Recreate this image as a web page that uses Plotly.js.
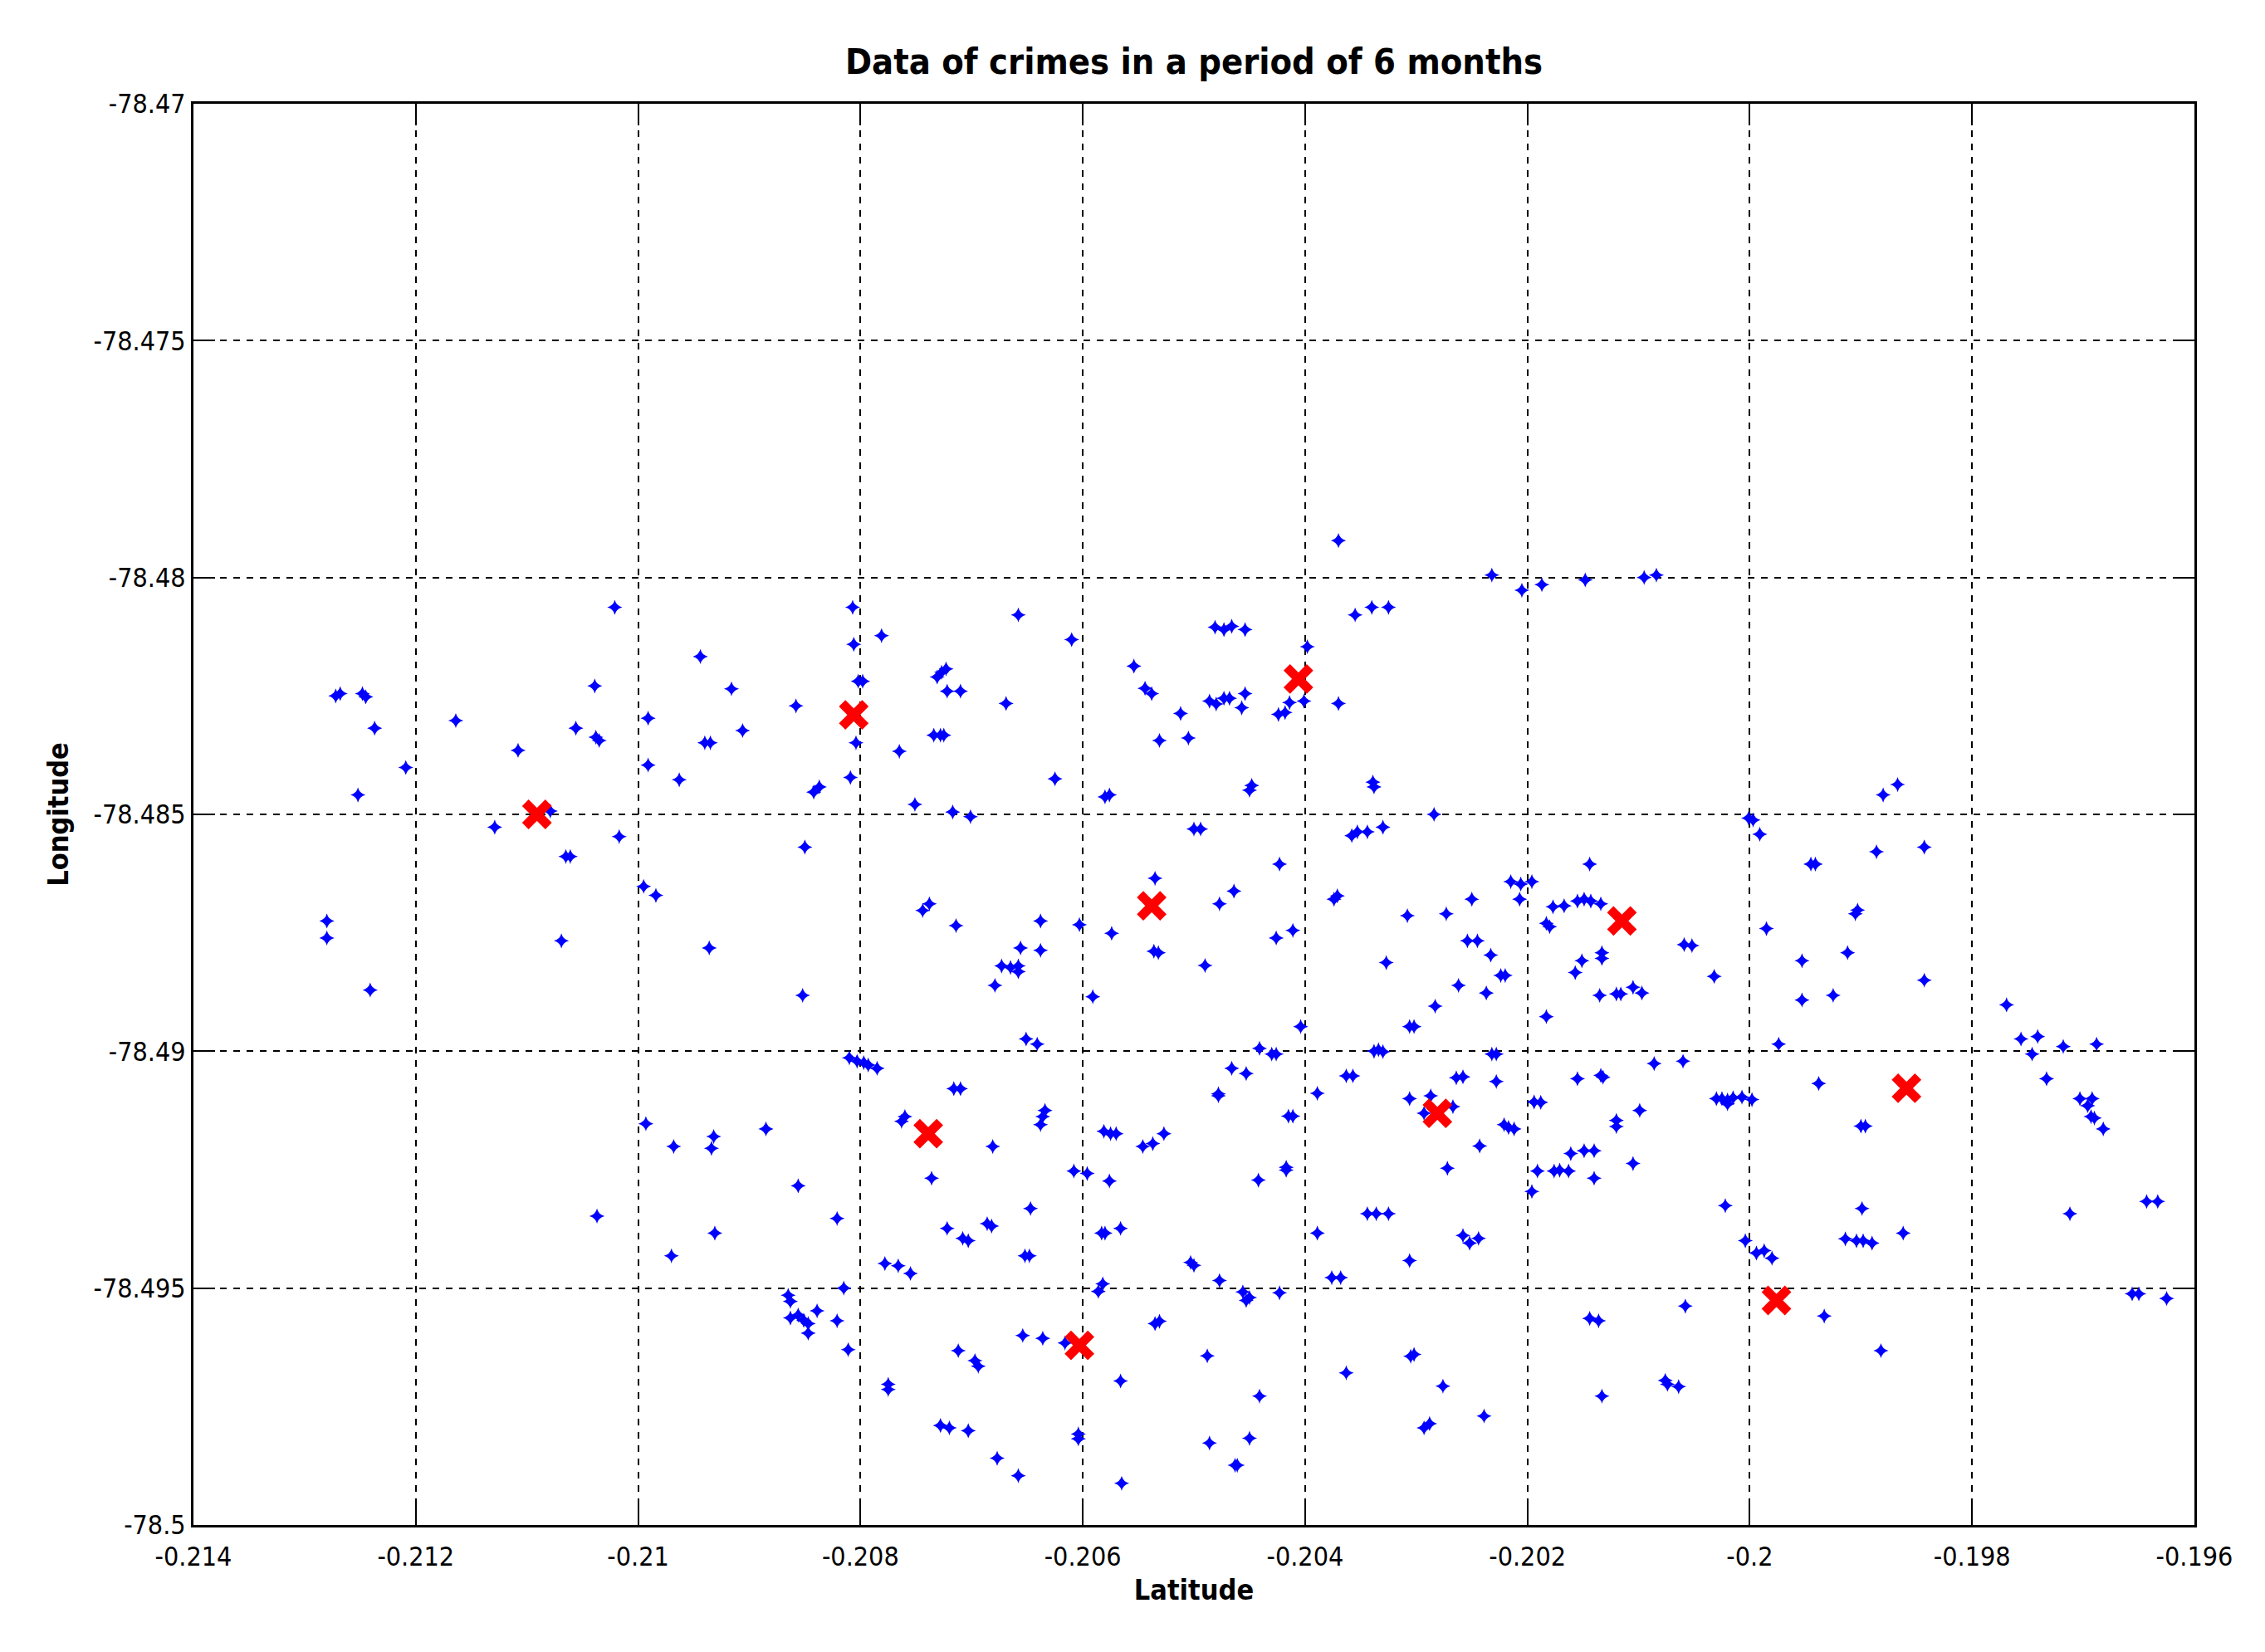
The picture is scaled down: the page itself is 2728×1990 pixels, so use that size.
<!DOCTYPE html>
<html>
<head>
<meta charset="utf-8">
<script src="https://cdn.plot.ly/plotly-3.0.1.min.js"></script>
<style>html,body{margin:0;padding:0;background:#fff;}#chart{width:2728px;height:1990px;}</style>
</head>
<body>
<div id="chart"></div>
<script>
// Crime locations (x = "Latitude" axis, y = "Longitude" axis)
const crimeLat = [
-0.21021,-0.21272,-0.21268,-0.21248,-0.21245,-0.21237,-0.21209,-0.21252,-0.21164,-0.21108,
-0.21039,-0.21056,-0.21038,-0.21035,-0.20991,-0.20991,-0.20963,-0.21079,-0.21129,-0.21017,
-0.21065,-0.21061,-0.20995,-0.20984,-0.21280,-0.21280,-0.21069,-0.21241,
-0.20807,-0.20658,-0.20781,-0.20806,-0.20944,-0.20731,-0.20727,-0.20723,-0.20802,-0.20798,
-0.20722,-0.20710,-0.20669,-0.20916,-0.20858,-0.20906,-0.20940,-0.20935,-0.20804,-0.20765,
-0.20734,-0.20728,-0.20725,-0.20842,-0.20837,-0.20809,-0.20751,-0.20717,-0.20701,-0.20850,
-0.20744,-0.20738,-0.20714,-0.20656,-0.20673,-0.20665,-0.20658,-0.20658,-0.20679,-0.20936,
-0.20852,
-0.20370,-0.20355,-0.20340,-0.20325,-0.20481,-0.20473,-0.20466,-0.20454,-0.20610,-0.20398,
-0.20554,-0.20544,-0.20538,-0.20486,-0.20480,-0.20473,-0.20468,-0.20454,-0.20457,-0.20414,
-0.20401,-0.20424,-0.20418,-0.20370,-0.20512,-0.20531,-0.20505,-0.20625,-0.20580,-0.20576,
-0.20448,-0.20450,-0.20339,-0.20338,-0.20500,-0.20494,-0.20358,-0.20353,-0.20344,-0.20330,
-0.20423,-0.20535,-0.20464,-0.20477,-0.20371,-0.20374,-0.20308,-0.20638,-0.20638,-0.20603,
-0.20574,-0.20536,-0.20532,-0.20490,-0.20426,-0.20411,-0.20327,-0.20591,
-0.20232,-0.20205,-0.20187,-0.20148,-0.20095,-0.20084,-0.20284,-0.20001,-0.19997,-0.19991,
-0.20144,-0.20215,-0.20206,-0.20196,-0.20207,-0.20250,-0.20273,-0.20177,-0.20167,-0.20155,
-0.20149,-0.20143,-0.20134,-0.20183,-0.20180,-0.20254,-0.20245,-0.20233,-0.20059,-0.20052,
-0.19985,-0.20151,-0.20133,-0.20133,-0.20157,-0.20224,-0.20220,-0.20032,-0.20262,-0.20237,
-0.20135,-0.20120,-0.20116,-0.20105,-0.20097,-0.20283,
-0.19880,-0.19867,-0.19945,-0.19941,-0.19886,-0.19843,-0.19905,-0.19903,-0.19953,-0.19912,
-0.19843,-0.19953,-0.19925,-0.19769,
-0.20993,-0.20968,-0.21037,-0.20970,
-0.20651,-0.20641,-0.20810,-0.20803,-0.20797,-0.20793,-0.20785,-0.20716,-0.20710,-0.20763,
-0.20760,-0.20681,-0.20634,-0.20636,-0.20638,-0.20932,-0.20934,-0.20885,-0.20856,-0.20821,
-0.20736,-0.20647,-0.20722,-0.20708,-0.20703,-0.20686,-0.20682,-0.20652,-0.20648,-0.20931,
-0.20778,-0.20766,-0.20755,-0.20815,-0.20865,-0.20863,-0.20863,-0.20856,-0.20851,-0.20847,
-0.20847,-0.20839,-0.20821,-0.20811,-0.20654,-0.20636,-0.20712,-0.20697,-0.20694,-0.20775,
-0.20775,-0.20728,-0.20720,-0.20703,-0.20677,-0.20658,
-0.20404,-0.20306,-0.20302,-0.20441,-0.20430,-0.20426,-0.20338,-0.20334,-0.20330,-0.20466,
-0.20453,-0.20478,-0.20478,-0.20389,-0.20363,-0.20357,-0.20306,-0.20415,-0.20411,-0.20581,
-0.20575,-0.20570,-0.20546,-0.20537,-0.20527,-0.20608,-0.20596,-0.20576,-0.20442,-0.20417,
-0.20417,-0.20344,-0.20336,-0.20325,-0.20583,-0.20580,-0.20566,-0.20389,-0.20503,-0.20500,
-0.20477,-0.20306,-0.20376,-0.20368,-0.20582,-0.20586,-0.20456,-0.20453,-0.20450,-0.20423,
-0.20535,-0.20531,-0.20616,-0.20488,-0.20363,-0.20305,-0.20302,-0.20566,-0.20441,-0.20604,
-0.20604,-0.20486,-0.20450,-0.20463,-0.20461,-0.20565,
-0.20183,-0.19974,-0.20232,-0.20228,-0.20086,-0.20060,-0.20264,-0.20258,-0.20228,-0.20155,
-0.20134,-0.20132,-0.20287,-0.20293,-0.20267,-0.20221,-0.20217,-0.20212,-0.20194,-0.20188,
-0.20030,-0.20025,-0.20020,-0.20015,-0.20007,-0.20020,-0.19998,-0.20120,-0.20120,-0.20099,
-0.20243,-0.20272,-0.20161,-0.20149,-0.20140,-0.20191,-0.20176,-0.20171,-0.20163,-0.20140,
-0.20105,-0.20196,-0.20022,-0.20258,-0.20252,-0.20244,-0.20004,-0.19994,-0.19987,-0.19980,
-0.20058,-0.20144,-0.20136,-0.20276,-0.20293,-0.20288,-0.20239,-0.20133,-0.20076,-0.20074,
-0.20064,
-0.19756,-0.19741,-0.19746,-0.19718,-0.19688,-0.19733,-0.19703,-0.19692,-0.19696,-0.19693,
-0.19690,-0.19682,-0.19938,-0.19900,-0.19896,-0.19899,-0.19914,-0.19904,-0.19898,-0.19890,
-0.19862,-0.19712,-0.19643,-0.19633,-0.19656,-0.19650,-0.19625,-0.19933,-0.19882
];
const crimeLon = [
-78.48063,-78.48250,-78.48245,-78.48245,-78.48252,-78.48318,-78.48401,-78.48459,-78.48302,-78.48365,
-78.48229,-78.48318,-78.48337,-78.48344,-78.48297,-78.48396,-78.48427,-78.48493,-78.48527,-78.48547,
-78.48589,-78.48589,-78.48652,-78.48671,-78.48725,-78.48761,-78.48767,-78.48871,
-78.48063,-78.48079,-78.48123,-78.48141,-78.48167,-78.48210,-78.48200,-78.48193,-78.48219,-78.48219,
-78.48240,-78.48240,-78.48266,-78.48235,-78.48271,-78.48323,-78.48349,-78.48349,-78.48349,-78.48367,
-78.48333,-78.48333,-78.48333,-78.48453,-78.48442,-78.48422,-78.48479,-78.48495,-78.48505,-78.48569,
-78.48703,-78.48689,-78.48735,-78.48782,-78.48820,-78.48823,-78.48820,-78.48832,-78.48861,-78.48782,
-78.48882,
-78.47922,-78.48079,-78.48063,-78.48063,-78.48105,-78.48110,-78.48103,-78.48110,-78.48131,-78.48146,
-78.48187,-78.48234,-78.48245,-78.48261,-78.48267,-78.48255,-78.48255,-78.48245,-78.48275,-78.48264,
-78.48261,-78.48289,-78.48285,-78.48266,-78.48287,-78.48344,-78.48339,-78.48425,-78.48463,-78.48459,
-78.48439,-78.48449,-78.48432,-78.48442,-78.48531,-78.48531,-78.48545,-78.48537,-78.48537,-78.48527,
-78.48605,-78.48635,-78.48662,-78.48689,-78.48672,-78.48679,-78.48714,-78.48725,-78.48787,-78.48733,
-78.48751,-78.48789,-78.48792,-78.48819,-78.48761,-78.48745,-78.48813,-78.48885,
-78.47995,-78.48027,-78.48015,-78.48005,-78.48000,-78.47995,-78.48500,-78.48508,-78.48512,-78.48542,
-78.48605,-78.48642,-78.48647,-78.48642,-78.48679,-78.48679,-78.48710,-78.48695,-78.48693,-78.48683,
-78.48679,-78.48683,-78.48689,-78.48730,-78.48737,-78.48767,-78.48767,-78.48797,-78.48775,-78.48777,
-78.48741,-78.48809,-78.48792,-78.48804,-78.48834,-78.48840,-78.48840,-78.48842,-78.48861,-78.48877,
-78.48882,-78.48879,-78.48879,-78.48865,-78.48877,-78.48905,
-78.48459,-78.48437,-78.48605,-78.48605,-78.48579,-78.48569,-78.48710,-78.48702,-78.48809,-78.48792,
-78.48850,-78.48892,-78.48882,-78.48902,
-78.49153,-78.49201,-78.49348,-78.49432,
-78.48974,-78.48985,-78.49014,-78.49021,-78.49024,-78.49029,-78.49036,-78.49079,-78.49079,-78.49148,
-78.49138,-78.49201,-78.49125,-78.49138,-78.49155,-78.49180,-78.49205,-78.49164,-78.49284,-78.49353,
-78.49268,-78.49332,-78.49374,-78.49395,-78.49400,-78.49364,-78.49369,-78.49432,-78.49432,-78.49384,
-78.49448,-78.49453,-78.49469,-78.49500,-78.49515,-78.49528,-78.49563,-78.49557,-78.49568,-78.49575,
-78.49595,-78.49548,-78.49569,-78.49630,-78.49600,-78.49606,-78.49632,-78.49653,-78.49665,-78.49703,
-78.49714,-78.49790,-78.49795,-78.49801,-78.49859,-78.49896,
-78.48948,-78.48948,-78.48948,-78.48994,-78.49006,-78.49006,-78.49000,-78.48997,-78.49001,-78.49036,
-78.49047,-78.49094,-78.49090,-78.49089,-78.49052,-78.49052,-78.49100,-78.49137,-78.49137,-78.49169,
-78.49174,-78.49174,-78.49201,-78.49195,-78.49174,-78.49253,-78.49258,-78.49274,-78.49272,-78.49251,
-78.49245,-78.49343,-78.49343,-78.49343,-78.49384,-78.49384,-78.49374,-78.49384,-78.49446,-78.49452,
-78.49484,-78.49442,-78.49478,-78.49478,-78.49491,-78.49507,-78.49508,-78.49526,-78.49520,-78.49510,
-78.49575,-78.49570,-78.49616,-78.49643,-78.49679,-78.49644,-78.49640,-78.49696,-78.49728,-78.49808,
-78.49818,-78.49827,-78.49817,-78.49874,-78.49874,-78.49912,
-78.48927,-78.48985,-78.49006,-78.49006,-78.49026,-78.49021,-78.49056,-78.49054,-78.49064,-78.49058,
-78.49051,-78.49055,-78.49094,-78.49131,-78.49117,-78.49155,-78.49161,-78.49164,-78.49107,-78.49108,
-78.49100,-78.49100,-78.49103,-78.49098,-78.49097,-78.49111,-78.49102,-78.49146,-78.49159,-78.49125,
-78.49200,-78.49247,-78.49216,-78.49210,-78.49210,-78.49253,-78.49253,-78.49251,-78.49253,-78.49268,
-78.49237,-78.49296,-78.49326,-78.49389,-78.49405,-78.49395,-78.49400,-78.49426,-78.49421,-78.49437,
-78.49538,-78.49564,-78.49569,-78.49707,-78.49795,-78.49786,-78.49770,-78.49728,-78.49695,-78.49703,
-78.49708,
-78.48974,-78.48969,-78.49006,-78.48990,-78.48985,-78.49058,-78.49100,-78.49100,-78.49115,-78.49138,
-78.49141,-78.49164,-78.49068,-78.49158,-78.49158,-78.49332,-78.49396,-78.49400,-78.49400,-78.49405,
-78.49384,-78.49343,-78.49317,-78.49317,-78.49512,-78.49512,-78.49522,-78.49559,-78.49632
];

// Cluster centres (red crosses)
const centroidLat = [-0.21091,-0.20806,-0.20406,-0.20538,-0.20115,-0.20739,-0.20603,-0.20281,-0.19976,-0.19859];
const centroidLon = [-78.48500,-78.48290,-78.48214,-78.48693,-78.48725,-78.49174,-78.49621,-78.49131,-78.49526,-78.49078];

// Axis ticks
const xTickVals = [-0.214,-0.212,-0.210,-0.208,-0.206,-0.204,-0.202,-0.200,-0.198,-0.196];
const xTickLabels = ['-0.214','-0.212','-0.21','-0.208','-0.206','-0.204','-0.202','-0.2','-0.198','-0.196'];
const yTickVals = [-78.5,-78.495,-78.49,-78.485,-78.48,-78.475,-78.47];
const yTickLabels = ['-78.5','-78.495','-78.49','-78.485','-78.48','-78.475','-78.47'];

const FONT = '"Liberation Sans Narrow", "Arial Narrow", "DejaVu Sans Condensed", "Liberation Sans", Arial, sans-serif';

const traces = [
  {
    type: 'scatter', mode: 'markers', x: crimeLat, y: crimeLon,
    marker: {symbol: 'star-diamond', size: 13, color: '#0000ff', line: {width: 0}},
    hoverinfo: 'x+y', showlegend: false
  },
  {
    type: 'scatter', mode: 'markers', x: centroidLat, y: centroidLon,
    marker: {symbol: 'x-thin-open', size: 28, color: '#ff0000', line: {width: 11, color: '#ff0000'}},
    hoverinfo: 'x+y', showlegend: false
  }
];

const axisCommon = {
  ticks: 'inside', ticklen: 26, tickwidth: 2, tickcolor: '#000',
  showline: true, linecolor: '#000', linewidth: 3, mirror: 'ticks',
  showgrid: true, gridcolor: '#000', gridwidth: 2, griddash: '8px,8px',
  zeroline: false, fixedrange: true,
  tickfont: {family: FONT, size: 32, color: '#000'}
};

const layout = {
  width: 2728, height: 1990,
  paper_bgcolor: '#fff', plot_bgcolor: '#fff',
  margin: {l: 233, r: 85, t: 125, b: 153, pad: 0},
  title: {
    text: '<b>Data of crimes in a period of 6 months</b>',
    font: {family: FONT, size: 43, color: '#000'},
    x: 0.5, xref: 'paper', xanchor: 'center',
    y: 1 - 74/1990, yref: 'container', yanchor: 'middle'
  },
  xaxis: Object.assign({}, axisCommon, {
    range: [-0.214, -0.196], tickmode: 'array', tickvals: xTickVals, ticktext: xTickLabels,
    ticklabelstandoff: 8,
    title: {text: '<b>Latitude</b>', font: {family: FONT, size: 34, color: '#000'}, standoff: 10}
  }),
  yaxis: Object.assign({}, axisCommon, {
    range: [-78.5, -78.47], tickmode: 'array', tickvals: yTickVals, ticktext: yTickLabels,
    title: {text: '<b>Longitude</b>', font: {family: FONT, size: 34, color: '#000'}, standoff: 20}
  }),
  showlegend: false
};

Plotly.newPlot('chart', traces, layout, {displayModeBar: false, responsive: false});
</script>
</body>
</html>
